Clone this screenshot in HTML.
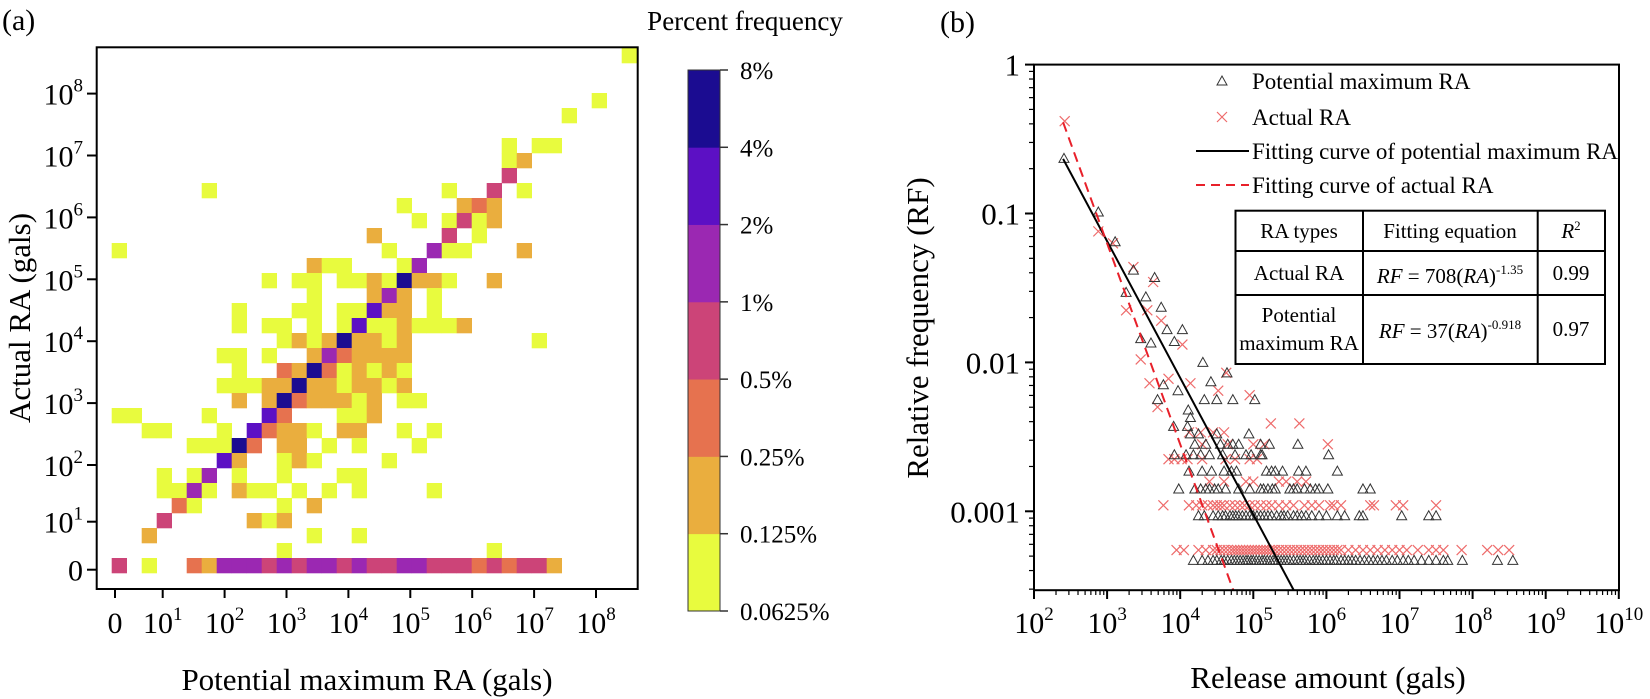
<!DOCTYPE html>
<html><head><meta charset="utf-8"><style>
html,body{margin:0;padding:0;background:#fff;}
svg{display:block;}
svg text, svg tspan{font-family:"Liberation Serif","Times New Roman",serif;}
</style></head><body>
<svg id="fig" width="1650" height="699" viewBox="0 0 1650 699" xmlns="http://www.w3.org/2000/svg">
<g id="left">
<text x="2" y="30" font-size="30">(a)</text>
<text transform="translate(30,318) rotate(-90)" text-anchor="middle" font-size="31">Actual RA (gals)</text>
<text x="367" y="690" text-anchor="middle" font-size="31">Potential maximum RA (gals)</text>
<text x="745" y="30" text-anchor="middle" font-size="27">Percent frequency</text>
<g id="cells"></g>
<rect x="96.7" y="47.3" width="541" height="541.7" fill="none" stroke="#000" stroke-width="2"/>
<g id="lticks"></g>
<g id="cbar"></g>
</g>
<g id="right">
<text x="940" y="32" font-size="30">(b)</text>
<text transform="translate(928,328) rotate(-90)" text-anchor="middle" font-size="31">Relative frequency (RF)</text>
<text x="1328" y="688" text-anchor="middle" font-size="31">Release amount (gals)</text>
<g id="rticks"></g>
<g id="pts"></g>
<g id="fits"></g>
<rect x="1034" y="64.6" width="585" height="525.6" fill="none" stroke="#000" stroke-width="2"/>
<g id="legend">
<path d="M1217,85 L1222,76 L1227,85 Z" fill="none" stroke="#333" stroke-width="1"/>
<text x="1252" y="89" font-size="23">Potential maximum RA</text>
<path d="M1217,112 L1227,122 M1227,112 L1217,122" stroke="#ee6b6b" stroke-width="1.2"/>
<text x="1252" y="125" font-size="23">Actual RA</text>
<line x1="1196" y1="151" x2="1249" y2="151" stroke="#000" stroke-width="2"/>
<text x="1252" y="159" font-size="23">Fitting curve of potential maximum RA</text>
<line x1="1196" y1="185" x2="1249" y2="185" stroke="#e8202a" stroke-width="2" stroke-dasharray="9,6"/>
<text x="1252" y="193" font-size="23">Fitting curve of actual RA</text>
</g>
<g id="table" font-size="21" text-anchor="middle">
<rect x="1235.5" y="210.7" width="369.5" height="153.3" fill="#fff" stroke="#000" stroke-width="2"/>
<line x1="1363" y1="210.7" x2="1363" y2="364" stroke="#000" stroke-width="2"/>
<line x1="1537.7" y1="210.7" x2="1537.7" y2="364" stroke="#000" stroke-width="2"/>
<line x1="1235.5" y1="251" x2="1605" y2="251" stroke="#000" stroke-width="2"/>
<line x1="1235.5" y1="295" x2="1605" y2="295" stroke="#000" stroke-width="2"/>
<text x="1299" y="238">RA types</text>
<text x="1450" y="238">Fitting equation</text>
<text x="1571" y="238"><tspan font-style="italic">R</tspan><tspan font-size="13" dy="-8">2</tspan></text>
<text x="1299" y="280">Actual RA</text>
<text x="1450" y="283"><tspan font-style="italic">RF</tspan> = 708(<tspan font-style="italic">RA</tspan>)<tspan font-size="13" dy="-9">-1.35</tspan></text>
<text x="1571" y="280">0.99</text>
<text x="1299" y="322">Potential</text>
<text x="1299" y="350">maximum RA</text>
<text x="1450" y="338"><tspan font-style="italic">RF</tspan> = 37(<tspan font-style="italic">RA</tspan>)<tspan font-size="13" dy="-9">-0.918</tspan></text>
<text x="1571" y="336">0.97</text>
</g>
</g>
</svg>
<script>
// ---------- heatmap data: [col bin, row bin, percent] ----------
const heatCells = [
[34,34,0.09],[32,31,0.09],[30,30,0.09],
[26,28,0.09],[28,28,0.09],[29,28,0.09],
[26,27,0.09],[27,27,0.18],
[26,26,0.7],
[6,25,0.09],[22,25,0.09],[25,25,0.7],[27,25,0.09],
[19,24,0.09],[23,24,0.18],[24,24,0.35],[25,24,0.18],
[20,23,0.09],[22,23,0.09],[23,23,0.7],[24,23,0.09],[25,23,0.18],
[17,22,0.18],[22,22,0.7],[24,22,0.09],
[0,21,0.09],[18,21,0.09],[21,21,1.4],[22,21,0.09],[23,21,0.09],[27,21,0.18],
[13,20,0.18],[14,20,0.09],[15,20,0.09],[19,20,0.09],[20,20,1.4],
[10,19,0.09],[12,19,0.09],[13,19,0.09],[15,19,0.09],[16,19,0.09],[17,19,0.18],[18,19,0.09],[19,19,5.5],[20,19,0.18],[21,19,0.18],[22,19,0.09],[25,19,0.18],
[13,18,0.09],[17,18,0.18],[18,18,1.4],[19,18,0.18],[21,18,0.09],
[8,17,0.09],[12,17,0.09],[13,17,0.09],[15,17,0.09],[16,17,0.09],[17,17,2.8],[18,17,0.18],[19,17,0.18],[21,17,0.09],
[8,16,0.09],[10,16,0.09],[11,16,0.09],[13,16,0.09],[15,16,0.09],[16,16,2.8],[17,16,0.09],[18,16,0.09],[19,16,0.18],[20,16,0.09],[21,16,0.09],[22,16,0.09],[23,16,0.18],
[11,15,0.09],[12,15,0.18],[13,15,0.09],[14,15,0.18],[15,15,5.5],[16,15,0.18],[17,15,0.18],[18,15,0.09],[19,15,0.18],[28,15,0.09],
[7,14,0.09],[8,14,0.09],[10,14,0.09],[13,14,0.18],[14,14,1.4],[15,14,0.35],[16,14,0.18],[17,14,0.18],[18,14,0.18],[19,14,0.18],
[8,13,0.09],[11,13,0.35],[12,13,0.18],[13,13,5.5],[14,13,0.35],[15,13,0.09],[16,13,0.18],[17,13,0.09],[18,13,0.18],[19,13,0.09],
[7,12,0.09],[8,12,0.09],[9,12,0.09],[10,12,0.18],[11,12,0.18],[12,12,5.5],[13,12,0.18],[14,12,0.18],[15,12,0.09],[16,12,0.18],[17,12,0.18],[18,12,0.09],[19,12,0.18],
[8,11,0.18],[10,11,0.18],[11,11,5.5],[12,11,0.35],[13,11,0.18],[14,11,0.18],[15,11,0.18],[16,11,0.09],[17,11,0.18],[19,11,0.09],[20,11,0.09],
[0,10,0.09],[1,10,0.09],[6,10,0.09],[10,10,2.8],[11,10,0.35],[15,10,0.09],[16,10,0.09],[17,10,0.18],
[2,9,0.09],[3,9,0.09],[7,9,0.09],[9,9,2.8],[10,9,0.35],[11,9,0.18],[12,9,0.18],[13,9,0.09],[15,9,0.18],[16,9,0.18],[19,9,0.09],[21,9,0.09],
[5,8,0.09],[6,8,0.09],[7,8,0.09],[8,8,5.5],[9,8,0.35],[11,8,0.18],[12,8,0.18],[14,8,0.09],[16,8,0.09],[20,8,0.09],
[7,7,2.8],[8,7,0.18],[11,7,0.09],[12,7,0.18],[13,7,0.09],[18,7,0.09],
[3,6,0.09],[5,6,0.09],[6,6,1.4],[8,6,0.09],[11,6,0.09],[15,6,0.09],[16,6,0.09],
[3,5,0.09],[4,5,0.09],[5,5,1.4],[6,5,0.09],[8,5,0.18],[9,5,0.09],[10,5,0.09],[12,5,0.09],[14,5,0.09],[16,5,0.09],[21,5,0.09],
[4,4,0.35],[5,4,0.09],[11,4,0.09],[13,4,0.18],
[3,3,0.7],[9,3,0.18],[10,3,0.09],[11,3,0.18],
[2,2,0.18],[13,2,0.09],[16,2,0.09],
[11,1,0.09],[25,1,0.09],
[0,0,0.7],[2,0,0.09],[5,0,0.35],[6,0,0.18],[7,0,1.4],[8,0,1.4],[9,0,1.4],[10,0,0.7],[11,0,1.4],[12,0,0.7],[13,0,1.4],[14,0,1.4],[15,0,0.7],[16,0,1.4],[17,0,0.7],[18,0,0.7],[19,0,1.4],[20,0,1.4],[21,0,0.7],[22,0,0.7],[23,0,0.7],[24,0,0.35],[25,0,0.7],[26,0,0.35],[27,0,0.7],[28,0,0.7],[29,0,0.18]
];
const cbEdges = [0.0625,0.125,0.25,0.5,1,2,4,8];
const cbLabels = ["0.0625%","0.125%","0.25%","0.5%","1%","2%","4%","8%"];
const cbColors = ["#e8fb3e","#eaae3e","#e6724f","#cc4478","#9b28b2","#5c10c4","#1b0c91"];
const heatXTickExp = ["0","1","2","3","4","5","6","7","8"];
const heatYTickExp = ["0","1","2","3","4","5","6","7","8"];
// ---------- scatter data (log10 values) ----------
const triSingleLogRA = [2.41,2.88,3.11,3.36,3.26,3.53,3.65,3.74,3.46,3.6,3.82,3.92,4.03,3.77,3.69,3.97,4.31,4.42,4.64,4.33,4.5,4.72,5.02,4.11,4.14,3.91,4.1];
const triSingleLogRF = [-0.63,-0.99,-1.19,-1.38,-1.53,-1.56,-1.43,-1.63,-1.84,-1.87,-1.78,-1.86,-1.78,-2.15,-2.25,-2.19,-2.0,-2.13,-2.07,-2.25,-2.25,-2.25,-2.25,-2.32,-2.37,-2.43,-2.43];
const triLevelLogRF = [-3.33,-3.03,-2.85,-2.73,-2.62,-2.55,-2.48];
const triLevelLogRA = [
[4.18,4.3,4.38,4.45,4.5,4.56,4.6,4.65,4.7,4.74,4.78,4.82,4.86,4.9,4.93,4.97,5.0,5.04,5.08,5.12,5.15,5.19,5.23,5.27,5.3,5.34,5.38,5.42,5.46,5.5,5.55,5.6,5.64,5.68,5.72,5.77,5.82,5.86,5.9,5.95,6.0,6.05,6.1,6.14,6.2,6.25,6.3,6.35,6.4,6.46,6.52,6.58,6.64,6.7,6.76,6.82,6.9,6.97,7.05,7.12,7.2,7.3,7.4,7.5,7.6,7.66,7.86,8.34,8.55],
[4.25,4.33,4.45,4.52,4.58,4.62,4.68,4.72,4.76,4.8,4.85,4.9,4.95,5.0,5.05,5.1,5.15,5.2,5.25,5.32,5.38,5.42,5.47,5.55,5.6,5.66,5.72,5.8,5.9,6.0,6.15,6.25,6.45,6.5,7.03,7.4,7.5],
[3.98,4.2,4.28,4.35,4.4,4.47,4.52,4.62,4.8,4.95,5.1,5.14,5.2,5.26,5.3,5.5,5.55,5.6,5.7,5.78,5.85,5.9,6.02,6.5,6.6],
[4.12,4.3,4.43,4.6,4.7,4.77,5.18,5.25,5.3,5.4,5.62,5.72,6.15],
[3.92,4.08,4.18,4.28,4.4,4.58,4.75,4.9,4.97,5.1,5.12,6.03],
[4.2,4.35,4.55,4.65,4.72,4.8,5.1,5.22,5.61],
[4.14,4.25,4.5,4.94]
];
const crossSingleLogRA = [2.42,2.88,3.08,3.36,3.26,3.55,3.63,3.74,3.46,3.58,3.69,3.84,4.03,4.14,4.63,4.52,4.95,5.24,5.63,6.02,3.77];
const crossSingleLogRF = [-0.38,-1.12,-1.2,-1.36,-1.65,-1.65,-1.46,-1.72,-1.98,-2.14,-2.3,-2.11,-1.88,-2.14,-2.07,-2.19,-2.22,-2.41,-2.41,-2.55,-2.96];
const crossLevelLogRF = [-3.26,-2.96,-2.8,-2.65,-2.55,-2.47];
const crossLevelLogRA = [
[3.95,4.05,4.25,4.35,4.45,4.5,4.55,4.6,4.65,4.7,4.74,4.78,4.82,4.86,4.9,4.94,4.98,5.02,5.06,5.1,5.14,5.18,5.22,5.26,5.3,5.35,5.4,5.45,5.5,5.55,5.6,5.65,5.7,5.75,5.8,5.85,5.9,5.95,6.0,6.05,6.1,6.15,6.2,6.3,6.4,6.5,6.6,6.7,6.8,6.9,7.0,7.1,7.25,7.4,7.5,7.6,7.85,8.2,8.35,8.5],
[4.12,4.22,4.3,4.38,4.45,4.5,4.55,4.6,4.68,4.75,4.82,4.88,4.95,5.02,5.1,5.18,5.25,5.35,5.45,5.55,5.7,5.8,5.9,6.05,6.1,6.2,6.6,6.65,6.95,7.05,7.5],
[4.4,4.6,4.9,5.0,5.35,5.45,5.6,5.72],
[3.84,3.92,4.02,4.1,4.3,4.62,4.75,4.95,5.05],
[4.3,4.65,5.0,5.15],
[4.12,4.28,4.45,4.6]
];
const fitNames = ["potential","actual"];
const fitCoef = [37,708];
const fitExp = [-0.918,-1.35];
const fitStartRA = [250,250];
const xTickExpR = [2,3,4,5,6,7,8,9,10];
const yTickExpR = [0,-1,-2,-3];
const yTickLabelsR = ["1","0.1","0.01","0.001"];

const NS="http://www.w3.org/2000/svg";
function mk(tag, attrs, parent){const e=document.createElementNS(NS,tag);for(const k in attrs)e.setAttribute(k,attrs[k]);parent.appendChild(e);return e;}
// ---------- heatmap ----------
const cellSize=15;
function cellX(c){return 111.7+cellSize*c;}
function cellY(r){return 558-cellSize*r;}
function colorFor(p){for(let i=0;i<cbColors.length;i++){if(p<cbEdges[i+1])return cbColors[i];}return cbColors[cbColors.length-1];}
const gCells=document.getElementById('cells');
heatCells.forEach(function(d){
  const r=mk('rect',{x:cellX(d[0]),y:cellY(d[1]),width:cellSize+0.3,height:cellSize+0.3,fill:colorFor(d[2])},gCells);
  
  
});
function heatXTick(i){return i===0?115:162.7+(i-1)*61.9;}
function heatYTick(i){return i===0?569.7:(i===1?521.7:465-(i-2)*61.9);}
const gL=document.getElementById('lticks');
heatXTickExp.forEach(function(e,i){
  const x=heatXTick(i);
  mk('line',{x1:x,y1:589,x2:x,y2:598,stroke:'#000','stroke-width':2},gL);
  const t=mk('text',{x:x,y:633,'text-anchor':'middle','font-size':30},gL);
  
  
  if(e==="0"){t.textContent="0";}else{t.textContent="10";const s=mk('tspan',{'font-size':19,dy:-13},t);s.textContent=e;}
});
heatYTickExp.forEach(function(e,i){
  const y=heatYTick(i);
  mk('line',{x1:87,y1:y,x2:96.7,y2:y,stroke:'#000','stroke-width':2},gL);
  const t=mk('text',{x:83,y:y+11,'text-anchor':'end','font-size':30},gL);
  
  
  if(e==="0"){t.textContent="0";}else{t.textContent="10";const s=mk('tspan',{'font-size':19,dy:-13},t);s.textContent=e;}
});
// colorbar
const gC=document.getElementById('cbar');
const cbTop=70,cbBot=611,cbSeg=(cbBot-cbTop)/cbColors.length;
cbColors.forEach(function(c,i){
  const r=mk('rect',{x:688,y:cbBot-(i+1)*cbSeg,width:32,height:cbSeg+0.4,fill:c},gC);
  
  
});
mk('rect',{x:688,y:cbTop,width:32,height:cbBot-cbTop,fill:'none',stroke:'#333','stroke-width':1},gC);
cbLabels.forEach(function(l,i){
  const y=cbBot-i*cbSeg;
  mk('line',{x1:720,y1:y,x2:728,y2:y,stroke:'#333','stroke-width':1.5},gC);
  const t=mk('text',{x:740,y:y+9,'font-size':25},gC);
  t.textContent=l;
  
  
});
// ---------- scatter ----------
function xR(lg){return 1034+(lg-2)*73.1;}
function yR(lg){return 64.6-lg*148.9;}
const gR=document.getElementById('rticks');
xTickExpR.forEach(function(e,i){
  const x=xR(e);
  mk('line',{x1:x,y1:590,x2:x,y2:599,stroke:'#000','stroke-width':2},gR);
  if(i<xTickExpR.length-1){for(let m=2;m<10;m++){const xm=xR(e+Math.log10(m));mk('line',{x1:xm,y1:590,x2:xm,y2:595,stroke:'#000','stroke-width':1.2},gR);}}
  const t=mk('text',{x:x,y:633,'text-anchor':'middle','font-size':30},gR);
  
  
  t.textContent="10";const s=mk('tspan',{'font-size':19,dy:-13},t);s.textContent=String(e);
});
yTickExpR.forEach(function(e,i){
  const y=yR(e);
  mk('line',{x1:1025,y1:y,x2:1034,y2:y,stroke:'#000','stroke-width':2},gR);
  const t=mk('text',{x:1020,y:y+11,'text-anchor':'end','font-size':31},gR);
  t.textContent=yTickLabelsR[i];
  
  
  for(let m=2;m<10;m++){const ym=yR(e-1+Math.log10(m));if(ym<590){mk('line',{x1:1029,y1:ym,x2:1034,y2:ym,stroke:'#000','stroke-width':1.2},gR);}}
});
const gP=document.getElementById('pts');
function tri(lx,ly){const x=xR(lx),y=yR(ly);const p=mk('path',{d:'M'+(x-5)+','+(y+4)+' L'+x+','+(y-5)+' L'+(x+5)+','+(y+4)+' Z',fill:'none',stroke:'#333','stroke-width':1},gP);
  
  }
function cross(lx,ly){const x=xR(lx),y=yR(ly);const p=mk('path',{d:'M'+(x-5)+','+(y-5)+' L'+(x+5)+','+(y+5)+' M'+(x+5)+','+(y-5)+' L'+(x-5)+','+(y+5),stroke:'#ee6b6b','stroke-width':1.2},gP);
  
  }
crossLevelLogRF.forEach(function(rf,i){crossLevelLogRA[i].forEach(function(ra){cross(ra,rf);});});
crossSingleLogRA.forEach(function(ra,i){cross(ra,crossSingleLogRF[i]);});
triLevelLogRF.forEach(function(rf,i){triLevelLogRA[i].forEach(function(ra){tri(ra,rf);});});
triSingleLogRA.forEach(function(ra,i){tri(ra,triSingleLogRF[i]);});
// fit curves
const gF=document.getElementById('fits');
const yMinLog=-3.53;
fitNames.forEach(function(n,i){
  const l0=Math.log10(fitStartRA[i]);
  const f0=Math.log10(fitCoef[i])+fitExp[i]*l0;
  const l1=(yMinLog-Math.log10(fitCoef[i]))/fitExp[i];
  const ln=mk('line',{x1:xR(l0),y1:yR(f0),x2:xR(l1),y2:yR(yMinLog),stroke:n==='actual'?'#e8202a':'#000','stroke-width':2},gF);
  if(n==='actual')ln.setAttribute('stroke-dasharray','10,6');
  
  
});
</script>
</body></html>
